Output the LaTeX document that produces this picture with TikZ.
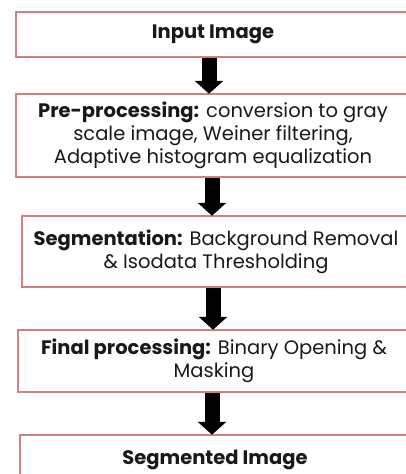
\documentclass[tikz,border=0pt]{standalone}
\usepackage{fontspec}
\setmainfont{Poppins}
\usepackage{xcolor}
\usetikzlibrary{arrows.meta}

\definecolor{boxline}{RGB}{208,128,128}

\begin{document}
\begin{tikzpicture}[x=1pt,y=-1pt]
\tikzset{stagebox/.style={draw=boxline,line width=1.5pt,inner sep=0pt,align=center,
  font=\fontsize{19.5}{23}\selectfont,text=black!90}}
\tikzset{flowarrow/.style={line width=15pt,-{Triangle[width=28pt,length=13pt]},shorten >=-0.5pt}}

\useasboundingbox (0,0) rectangle (406,474);
\clip (0,0) rectangle (406,474);

\node[stagebox,minimum width=394pt,minimum height=45pt] (input) at (213,34.5)
  {\textbf{Input Image}};
\node[stagebox,minimum width=394pt,minimum height=83pt] (prep) at (213,135.5)
  {\textbf{Pre-processing:} conversion to gray\\scale image, Weiner filtering,\\Adaptive histogram equalization};
\node[stagebox,minimum width=388pt,minimum height=71pt] (seg) at (216,251.5)
  {\textbf{Segmentation:} Background Removal\\\& Isodata Thresholding};
\node[stagebox,minimum width=392pt,minimum height=62pt] (final) at (214,361)
  {\textbf{Final processing:} Binary Opening \&\\Masking};
\node[stagebox,minimum width=390pt,minimum height=50pt] (output) at (215,460)
  {\textbf{Segmented Image}};

\draw[flowarrow] ([xshift=-4pt]input.south) -- ([xshift=-4pt]input.south |- prep.north);
\draw[flowarrow] ([xshift=-1pt]prep.south) -- ([xshift=-1pt]prep.south |- seg.north);
\draw[flowarrow] ([xshift=-3pt]seg.south) -- ([xshift=-3pt]seg.south |- final.north);
\draw[flowarrow] ([xshift=-2pt]final.south) -- ([xshift=-2pt]final.south |- output.north);

\end{tikzpicture}
\end{document}
